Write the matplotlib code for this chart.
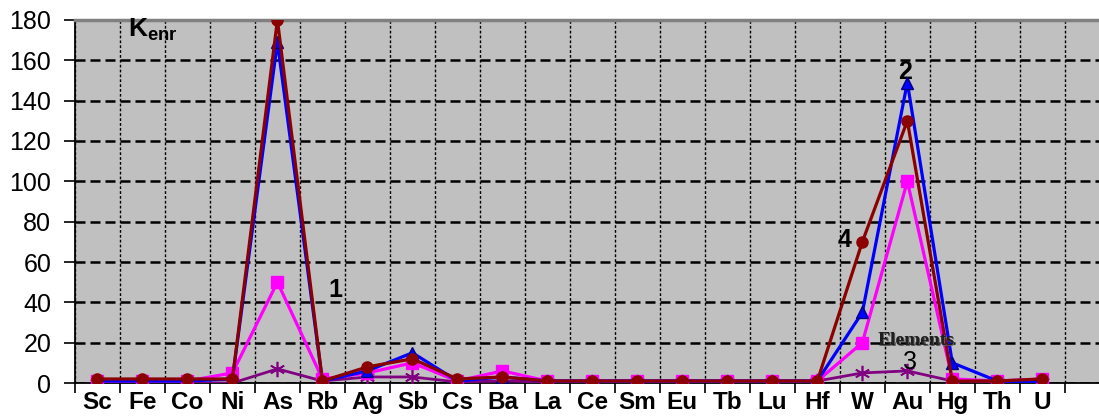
import matplotlib
matplotlib.use('Agg')
import matplotlib.pyplot as plt
import numpy as np

plt.rcParams['font.family'] = ['Liberation Sans', 'DejaVu Sans']
plt.rcParams['mathtext.fontset'] = 'custom'
plt.rcParams['mathtext.bf'] = 'Liberation Sans:bold'
plt.rcParams['mathtext.rm'] = 'Liberation Sans'

elementos = ['Sc', 'Fe', 'Co', 'Ni', 'As', 'Rb', 'Ag', 'Sb', 'Cs', 'Ba', 'La',
             'Ce', 'Sm', 'Eu', 'Tb', 'Lu', 'Hf', 'W', 'Au', 'Hg', 'Th', 'U']

serie1 = [1, 1, 1, 5, 50, 2, 5, 10, 1, 6, 1, 1, 1, 1, 1, 1, 1, 20, 100, 2, 1, 2]
serie2 = [1, 1, 1, 2, 169, 1, 6, 15, 1, 3, 1, 1, 1, 1, 1, 1, 1, 35, 149, 10, 1, 0.5]
serie3 = [0, 0, 0, 0, 7, 1, 3, 3, 0.5, 1, 0.5, 0.5, 0.5, 0.5, 0.5, 0.5, 1, 5, 6, 1, 0.5, 0.5]
serie4 = [2, 2, 2, 2, 180, 1, 8, 12, 2, 3, 1, 1, 1, 1, 1, 1, 1, 70, 130, 1, 1, 2]

fig = plt.figure(figsize=(10.99, 4.18), dpi=100)
ax = fig.add_axes([0.0682, 0.0837, 0.9318, 0.8685])
ax.set_facecolor('#C0C0C0')

x = np.arange(len(elementos))
ax.plot(x, serie3, color='#800080', lw=2, marker=(6, 2, 0), ms=11, mew=1.2, zorder=3)
ax.plot(x, serie1, color='#FF00FF', lw=2.3, marker='s', ms=8, zorder=4)
ax.plot(x, serie2, color='#0000FF', lw=2.3, marker='^', ms=9, mec='#000080', zorder=5)
ax.plot(x, serie4, color='#8B0000', lw=2.3, marker='o', ms=8, zorder=6)

ax.set_xlim(-0.5, 22.26)
ax.set_ylim(0, 180)
ax.set_yticks(range(0, 181, 20))
ax.set_xticks(x)
ax.set_xticklabels(elementos, fontsize=17.5, fontweight='bold')
ax.set_xticks(np.arange(-0.5, 22.5, 1), minor=True)
ax.tick_params(axis='x', which='major', length=0, pad=5.5)
ax.tick_params(axis='x', which='minor', length=7, width=1.2, direction='out')
ax.tick_params(axis='y', length=8, width=1.2, direction='out', labelsize=18, pad=9)

ax.yaxis.grid(True, color='black', linestyle=(0, (4, 2)), lw=1.8)
ax.xaxis.grid(True, which='minor', color='black', linestyle=(0, (2, 1.5)), lw=1)
ax.set_axisbelow(True)

ax.spines['right'].set_visible(False)
ax.spines['top'].set_color('#808080')
ax.spines['top'].set_linewidth(2.5)
ax.spines['left'].set_linewidth(1.3)
ax.spines['bottom'].set_linewidth(1.3)

ax.text(0.68, 175, r'$\mathbf{K_{enr}}$', fontsize=19, va='center', ha='left')
ax.text(5.28, 46, '1', fontsize=18, fontweight='bold', ha='center', va='center')
ax.text(17.94, 154, '2', fontsize=18, fontweight='bold', ha='center', va='center')
ax.text(16.61, 71, '4', fontsize=18, fontweight='bold', ha='center', va='center')
ax.text(18.06, 10.4, '3', fontsize=18, ha='center', va='center', zorder=7)
ax.text(18.22, 20.8, 'Elements', fontsize=14, fontweight='bold', family='Liberation Serif',
        ha='center', va='center', color='#606060', zorder=7)
ax.text(18.19, 21.3, 'Elements', fontsize=14, fontweight='bold', family='Liberation Serif',
        ha='center', va='center', color='#202020', zorder=7)

fig.savefig('out.png', dpi=100)
plt.close()
